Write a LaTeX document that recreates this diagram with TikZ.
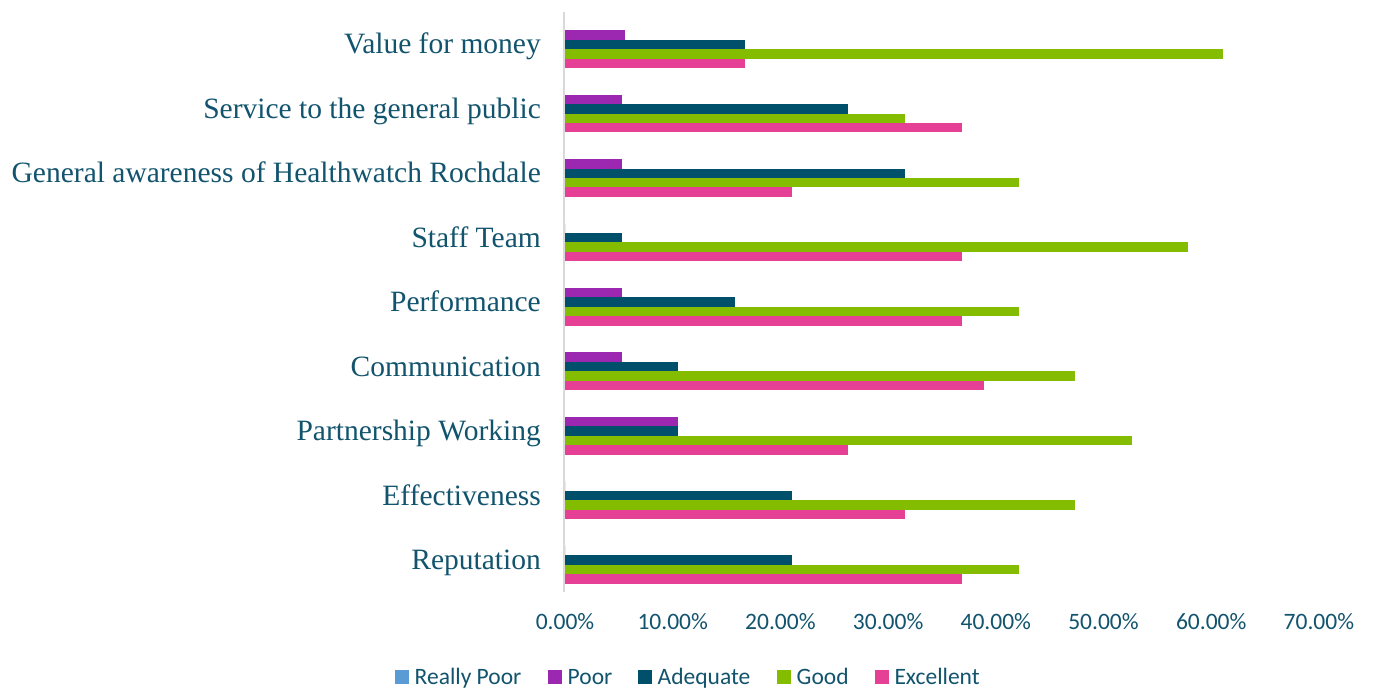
\documentclass[tikz,border=0pt]{standalone}
\usepackage{fontspec}
\setmainfont{Liberation Serif}
\newfontfamily\tickfont{Carlito}
\definecolor{creallypoor}{HTML}{5B9BD5}
\definecolor{cpoor}{HTML}{9C27B0}
\definecolor{cadequate}{HTML}{00506B}
\definecolor{cgood}{HTML}{84BD00}
\definecolor{cexcellent}{HTML}{E63F96}
\definecolor{ctext}{HTML}{12546E}
\definecolor{caxis}{HTML}{D9D9D9}
\tikzset{
  catlabel/.style={anchor=base east, inner sep=0pt, text=ctext, font=\fontsize{29.5}{30}\selectfont},
  ticklabel/.style={anchor=base, inner sep=0pt, text=ctext, font=\tickfont\fontsize{23.5}{24}\selectfont},
  legendlabel/.style={anchor=base west, inner sep=0pt, text=ctext, font=\tickfont\fontsize{23.5}{24}\selectfont},
  axisline/.style={draw=caxis, line width=1.8pt},
}
\begin{document}
\begin{tikzpicture}[x=1pt,y=-1pt]
\useasboundingbox (0,0) rectangle (1373,688);
\fill[white] (0,0) rectangle (1373,688);
\def\u{10.77}
\def\bh{9.45}
% axis
\coordinate (axtop) at (564,12);
\coordinate (axbot) at (564,592);
\draw[axisline] (axtop) -- (axbot);
% bars and category labels
\foreach \i/\name/\p/\a/\g/\e in {
  0/Value for money/5.56/16.67/61.11/16.67,
  1/Service to the general public/5.26/26.32/31.58/36.84,
  2/General awareness of Healthwatch Rochdale/5.26/31.58/42.11/21.05,
  3/Staff Team/0/5.26/57.89/36.84,
  4/Performance/5.26/15.79/42.11/36.84,
  5/Communication/5.26/10.53/47.37/38.89,
  6/Partnership Working/10.53/10.53/52.63/26.32,
  7/Effectiveness/0/21.05/47.37/31.58,
  8/Reputation/0/21.05/42.11/36.84}{
  \pgfmathsetmacro\c{44.3+64.46*\i}
  \node[catlabel] (cat\i) at (541,{\c+9.5}) {\name};
  \fill[cpoor] (565,{\c-23.6+\bh}) rectangle ++({\p*\u},\bh);
  \fill[cadequate] (565,{\c-23.6+2*\bh}) rectangle ++({\a*\u},\bh);
  \fill[cgood] (565,{\c-23.6+3*\bh}) rectangle ++({\g*\u},\bh);
  \fill[cexcellent] (565,{\c-23.6+4*\bh}) rectangle ++({\e*\u},\bh);
}
% tick labels
\foreach \k/\lab in {0/0.00,1/10.00,2/20.00,3/30.00,4/40.00,5/50.00,6/60.00,7/70.00}{
  \node[ticklabel] (tick\k) at ({565+10*\k*\u},629.5) {\lab\%};
}
% legend
\fill[creallypoor] (395,670) rectangle (409,684);
\node[legendlabel] (lgrp) at (414.5,684) {Really Poor};
\fill[cpoor] (548,670) rectangle (562,684);
\node[legendlabel] (lgp) at (567.5,684) {Poor};
\fill[cadequate] (638,670) rectangle (652,684);
\node[legendlabel] (lga) at (657.5,684) {Adequate};
\fill[cgood] (777,670) rectangle (791,684);
\node[legendlabel] (lgg) at (796.5,684) {Good};
\fill[cexcellent] (874.5,670) rectangle (888.5,684);
\node[legendlabel] (lge) at (894.3,684) {Excellent};
\end{tikzpicture}
\end{document}
